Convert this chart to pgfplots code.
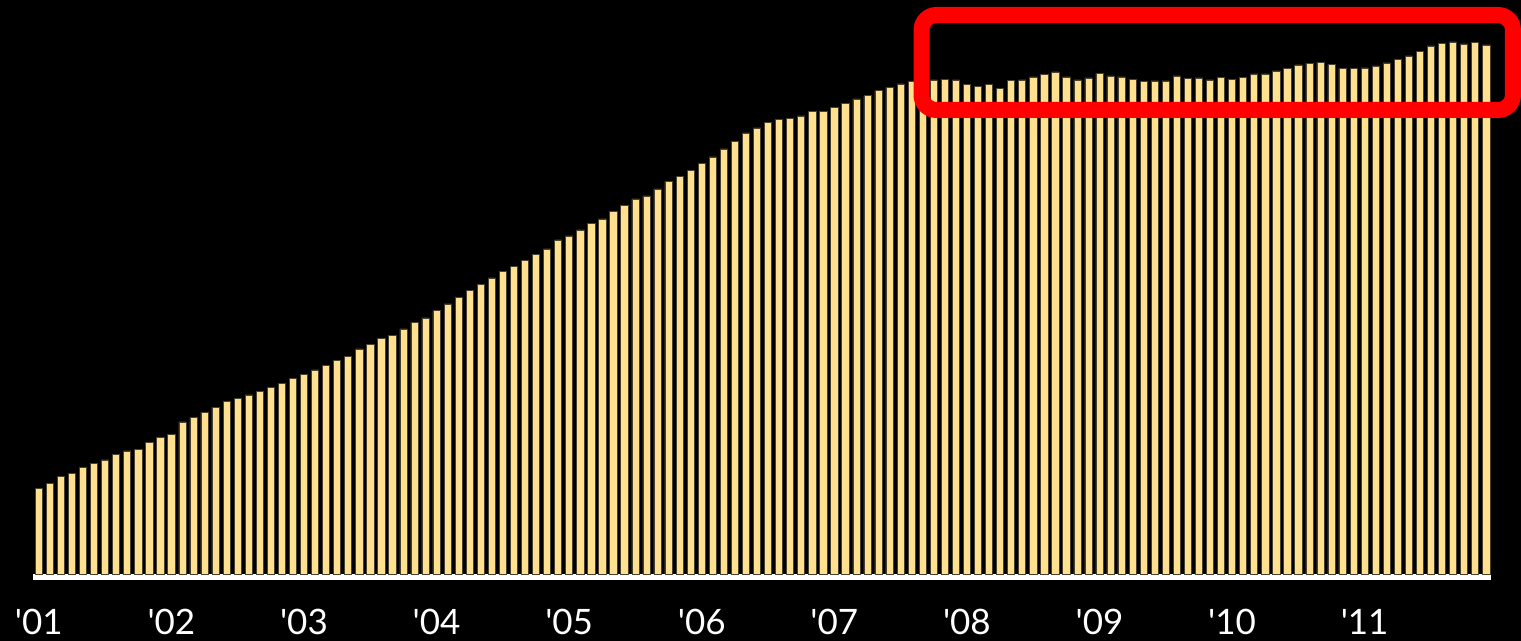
\documentclass[border=0pt]{standalone}
\usepackage{fontspec}
\setmainfont{Lato}
\usepackage{pgfplots}
\pgfplotsset{compat=1.18}
\usepackage{pgfplotstable}
\definecolor{barfill}{HTML}{FFE08F}
\definecolor{barline}{HTML}{4A4230}
\definecolor{boxred}{HTML}{FF0000}

\pgfplotstableread{
i v
0 85.7
1 90.7
2 97.3
3 100.7
4 106.7
5 110.7
6 114
7 119.7
8 123
9 124.7
10 131.3
11 136.3
12 139.7
13 152
14 156.7
15 161.7
16 166.7
17 172.3
18 175.5
19 179
20 182.3
21 186.7
22 190.7
23 195.3
24 199.7
25 204
26 208.7
27 213.3
28 217.7
29 225
30 229.7
31 235.7
32 238.7
33 245
34 251.7
35 256
36 263.3
37 270
38 276.3
39 283.7
40 289.7
41 296
42 302.7
43 307.7
44 313.7
45 319.3
46 325
47 334
48 338
49 344
50 350.3
51 355
52 362.7
53 368.7
54 375
55 378
56 385
57 392.7
58 397.7
59 403.3
60 410.3
61 417
62 425
63 432.7
64 441
65 446
66 451.7
67 454.7
68 455.7
69 458
70 462.7
71 462.7
72 466.7
73 470.7
74 475
75 478.3
76 483.3
77 486.7
78 490
79 492.3
80 493
81 494
82 494.7
83 494
84 489.7
85 487.7
86 489.7
87 485.7
88 493.7
89 494
90 497
91 499.3
92 502
93 497
94 494
95 496
96 500.7
97 498
98 497
99 494.7
100 492.3
101 493
102 493
103 498
104 495.7
105 496
106 494
107 496.7
108 494.3
109 496.3
110 500
111 500
112 503
113 505.7
114 509
115 510.7
116 511.7
117 509.3
118 505.7
119 505.7
120 506
121 508
122 511
123 514.7
124 518
125 522.7
126 528
127 530.3
128 532
129 530
130 531.3
131 529
}\datatable

\begin{document}
\begin{tikzpicture}
\useasboundingbox (0pt,0pt) rectangle (760.5pt,320.5pt);
\fill[black] (0pt,0pt) rectangle (760.5pt,320.5pt);
\begin{axis}[
  at={(0pt,33.5pt)}, anchor=south west,
  scale only axis,
  width=760.5pt, height=287pt,
  xmin=-3.512, xmax=134.15,
  ymin=0, ymax=574,
  clip=false,
  axis line style={draw=none},
  tick style={draw=none},
  ytick=\empty,
  xtick={0,12,...,120},
  xticklabels={{\textquotesingle01},{\textquotesingle02},{\textquotesingle03},{\textquotesingle04},{\textquotesingle05},{\textquotesingle06},{\textquotesingle07},{\textquotesingle08},{\textquotesingle09},{\textquotesingle10},{\textquotesingle11}},
  xticklabel style={font=\fontsize{17.5}{17.5}\selectfont, text=white, inner sep=0pt, anchor=north, yshift=-13pt},
  ybar, bar width=3.6pt,
]
\draw[white, line width=3pt] (axis cs:-0.525,-3) -- (axis cs:131.43,-3);
\addplot[ybar, fill=barfill, draw=barline, line width=0.3pt] table[x=i,y=v]{\datatable};
\draw[boxred, line width=8pt, rounded corners=7.5pt] (axis cs:79.89,464) rectangle (axis cs:133.42,559);
\end{axis}
\end{tikzpicture}
\end{document}
